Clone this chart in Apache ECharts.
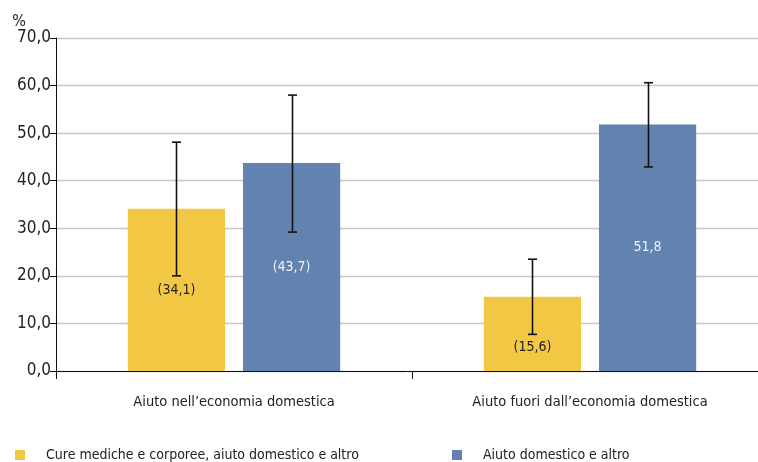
<!DOCTYPE html>
<html><head><meta charset="utf-8">
<script src="https://cdn.jsdelivr.net/npm/echarts@6/dist/echarts.min.js"></script>
<style>html,body{margin:0;padding:0;background:#fff}#c{width:758px;height:462px}</style>
</head><body><div id="c"></div>
<script>
const categories = ["Aiuto nell\u2019economia domestica", "Aiuto fuori dall\u2019economia domestica"];
const seriesNames = ["Cure mediche e corporee, aiuto domestico e altro", "Aiuto domestico e altro"];
const yellowValues = [34.1, 15.6];
const blueValues = [43.7, 51.8];
const yellowLow = [20.0, 7.7];
const yellowHigh = [48.1, 23.5];
const blueLow = [29.2, 42.9];
const blueHigh = [58.0, 60.6];
const yellowLabels = ["(34,1)", "(15,6)"];
const blueLabels = ["(43,7)", "51,8"];
const yTicks = [0, 10, 20, 30, 40, 50, 60, 70];

const FONT = '"Liberation Sans Narrow", "DejaVu Sans Condensed", sans-serif';
const YELLOW = '#F2C744', BLUE = '#6283B0';
const chart = echarts.init(document.getElementById('c'), null, {renderer: 'canvas'});

function errSeries(low, high, offsetIdx) {
  return {
    type: 'custom',
    data: categories.map((c, i) => [i, low[i], high[i]]),
    z: 10,
    clip: false,
    renderItem: function (params, api) {
      const i = api.value(0);
      const lo = api.coord([i, api.value(1)]);
      const hi = api.coord([i, api.value(2)]);
      const bw = api.size([1, 0])[0];
      const barW = bw * 0.273, gap = barW * 0.185;
      const dx = offsetIdx === 0 ? -(gap / 2 + barW / 2) : (gap / 2 + barW / 2);
      const x = Math.round(lo[0] + dx) + 0.5;
      const cap = 4.5;
      const st = {stroke: '#111', lineWidth: 1.6, fill: null};
      return {type: 'group', children: [
        {type: 'line', shape: {x1: x, y1: hi[1], x2: x, y2: lo[1]}, style: st},
        {type: 'line', shape: {x1: x - cap, y1: hi[1], x2: x + cap, y2: hi[1]}, style: st},
        {type: 'line', shape: {x1: x - cap, y1: lo[1], x2: x + cap, y2: lo[1]}, style: st}
      ]};
    }
  };
}

chart.setOption({
  animation: false,
  textStyle: {fontFamily: FONT},
  grid: {left: 56, top: 38, bottom: 91, right: -10, containLabel: false, outerBoundsMode: 'none'},
  legend: [
    {data: [seriesNames[0]], left: 10, top: 443, itemWidth: 10, itemHeight: 10, icon: 'rect',
     textStyle: {fontFamily: FONT, fontSize: 14, color: '#222', padding: [0, 0, 0, 16]}},
    {data: [seriesNames[1]], left: 447, top: 443, itemWidth: 10, itemHeight: 10, icon: 'rect',
     textStyle: {fontFamily: FONT, fontSize: 14, color: '#222', padding: [0, 0, 0, 16]}}
  ],
  xAxis: {
    type: 'category', data: categories,
    axisLine: {lineStyle: {color: '#111', width: 1}},
    axisTick: {show: true, length: 8, lineStyle: {color: '#111'}},
    axisLabel: {fontFamily: FONT, fontSize: 14.5, color: '#222', margin: 24},
    splitLine: {show: false}
  },
  yAxis: {
    type: 'value', min: 0, max: 70, interval: 10,
    name: '%', nameLocation: 'end', nameGap: 8,
    nameTextStyle: {fontFamily: FONT, fontSize: 16, color: '#222', align: 'right', padding: [0, 30, 0, 0]},
    axisLine: {show: true, lineStyle: {color: '#111'}},
    axisTick: {show: true, length: 6, lineStyle: {color: '#111'}},
    axisLabel: {fontFamily: FONT, fontSize: 17, color: '#222', margin: 5,
      formatter: v => yTicks.includes(v) ? v.toFixed(1).replace('.', ',') : ''},
    splitLine: {lineStyle: {color: '#c8c8c8', width: 1.3}}
  },
  series: [
    {name: seriesNames[0], type: 'bar', data: yellowValues, barWidth: '27.3%', barGap: '18.5%',
     itemStyle: {color: YELLOW},
     label: {show: true, position: 'inside', fontFamily: FONT, fontSize: 14, color: '#222',
       formatter: p => yellowLabels[p.dataIndex]},
     labelLayout: p => p.dataIndex === 1 ? {dy: 13} : {}},
    {name: seriesNames[1], type: 'bar', data: blueValues, barWidth: '27.3%', barGap: '18.5%',
     itemStyle: {color: BLUE},
     label: {show: true, position: 'inside', fontFamily: FONT, fontSize: 14, color: '#eef2f8',
       formatter: p => blueLabels[p.dataIndex]}},
    errSeries(yellowLow, yellowHigh, 0),
    errSeries(blueLow, blueHigh, 1)
  ]
});
</script></body></html>
